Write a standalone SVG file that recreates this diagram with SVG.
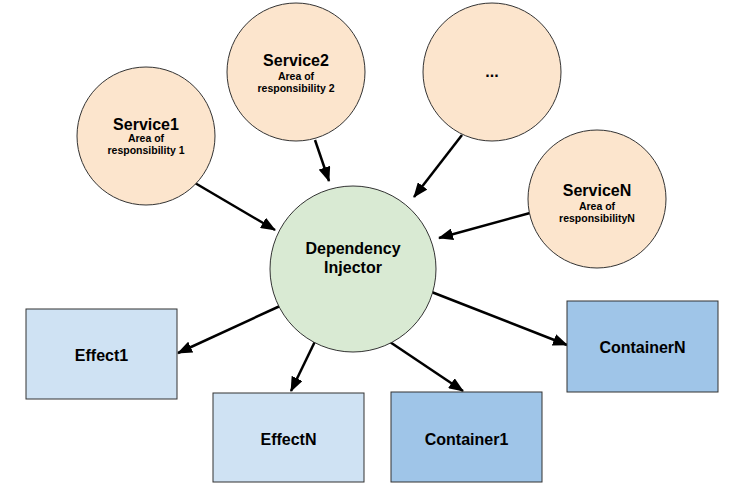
<svg xmlns="http://www.w3.org/2000/svg" width="750" height="490" viewBox="0 0 750 490">
<defs>
<marker id="ah" markerWidth="15" markerHeight="12" refX="14" refY="6" orient="auto" markerUnits="userSpaceOnUse">
<path d="M0,0 L15,6 L0,12 Z" fill="#000"/>
</marker>
<style>
.svc{fill:#fce5cd;stroke:#333;stroke-width:1}
.di{fill:#d9ead3;stroke:#333;stroke-width:1}
.eff{fill:#cfe2f3;stroke:#333;stroke-width:1}
.con{fill:#9fc5e8;stroke:#333;stroke-width:1}
text{font-family:"Liberation Sans",Arial,sans-serif;font-weight:bold;fill:#000;text-anchor:middle}
.t{font-size:16px}
.s{font-size:10.5px}
.edge{stroke:#000;stroke-width:2.5;fill:none;marker-end:url(#ah)}
</style>
</defs>
<rect width="750" height="490" fill="#fff"/>
<g id="connectors">
<line class="edge" x1="195" y1="183" x2="275" y2="230"/>
<line class="edge" x1="315" y1="140" x2="329" y2="181"/>
<line class="edge" x1="462" y1="135" x2="414" y2="197"/>
<line class="edge" x1="530" y1="213" x2="439" y2="238"/>
<line class="edge" x1="280" y1="306" x2="178" y2="353"/>
<line class="edge" x1="320" y1="331" x2="291" y2="391"/>
<line class="edge" x1="378" y1="334" x2="463" y2="391"/>
<line class="edge" x1="429" y1="291" x2="567" y2="345"/>
</g>
<g id="service1">
<circle class="svc" cx="146" cy="136" r="69"/>
<text class="t" x="146" y="130">Service1</text>
<text class="s" x="146" y="142">Area of</text>
<text class="s" x="146" y="154">responsibility 1</text>
</g>
<g id="service2">
<circle class="svc" cx="296" cy="72" r="69"/>
<text class="t" x="296" y="66">Service2</text>
<text class="s" x="296" y="80">Area of</text>
<text class="s" x="296" y="92">responsibility 2</text>
</g>
<g id="serviceDots">
<circle class="svc" cx="492" cy="72" r="69"/>
<text class="t" x="492" y="77">...</text>
</g>
<g id="serviceN">
<circle class="svc" cx="597" cy="199" r="69"/>
<text class="t" x="597" y="196">ServiceN</text>
<text class="s" x="597" y="210">Area of</text>
<text class="s" x="597" y="222">responsibilityN</text>
</g>
<g id="injector">
<circle class="di" cx="353" cy="269" r="83"/>
<text class="t" x="353" y="254">Dependency</text>
<text class="t" x="353" y="273">Injector</text>
</g>
<g id="effect1">
<rect class="eff" x="26" y="309" width="151" height="90"/>
<text class="t" x="101.5" y="361">Effect1</text>
</g>
<g id="effectN">
<rect class="eff" x="213" y="393" width="151" height="89"/>
<text class="t" x="288.5" y="445">EffectN</text>
</g>
<g id="container1">
<rect class="con" x="391" y="392" width="151" height="90"/>
<text class="t" x="466.5" y="445">Container1</text>
</g>
<g id="containerN">
<rect class="con" x="567" y="301" width="151" height="91"/>
<text class="t" x="642.5" y="353">ContainerN</text>
</g>
</svg>
